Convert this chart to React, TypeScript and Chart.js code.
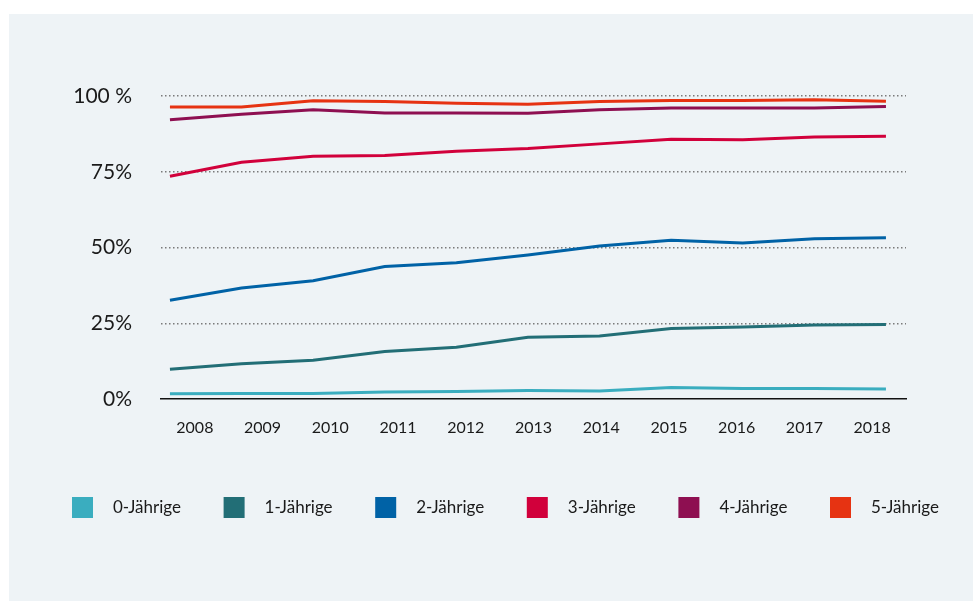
import React, { useEffect, useRef } from "react";
import { Chart, registerables } from "chart.js";

Chart.register(...registerables);

const years = ["2008", "2009", "2010", "2011", "2012", "2013", "2014", "2015", "2016", "2017", "2018"];
const seriesNames = ["0-Jährige", "1-Jährige", "2-Jährige", "3-Jährige", "4-Jährige", "5-Jährige"];
const age0 = [1.7, 1.8, 1.8, 2.3, 2.5, 2.8, 2.6, 3.8, 3.5, 3.5, 3.3];
const age1 = [9.8, 11.6, 12.8, 15.7, 17.1, 20.4, 20.8, 23.3, 23.8, 24.4, 24.6];
const age2 = [32.6, 36.6, 39.0, 43.7, 45.0, 47.5, 50.5, 52.4, 51.5, 52.9, 53.2];
const age3 = [73.5, 78.1, 80.1, 80.4, 81.8, 82.7, 84.2, 85.7, 85.6, 86.5, 86.7];
const age4 = [92.2, 94.0, 95.5, 94.4, 94.4, 94.3, 95.5, 96.0, 96.0, 96.0, 96.5];
const age5 = [96.4, 96.4, 98.4, 98.2, 97.6, 97.3, 98.2, 98.5, 98.5, 98.8, 98.3];
const yTickLabels: Record<number, string> = { 0: "0%", 25: "25%", 50: "50%", 75: "75%", 100: "100 %" };
const colors = ["#3aadbf", "#226e76", "#0062a6", "#d1003b", "#8e0f51", "#e63312"];

const FONT = "Lato, 'Open Sans', sans-serif";

const legendPlugin = {
  id: "customLegend",
  afterDraw(chart: any) {
    const ctx = chart.ctx;
    ctx.save();
    const ds = chart.data.datasets;
    ctx.font = `17px ${FONT}`;
    ctx.textBaseline = "middle";
    ctx.textAlign = "left";
    ds.forEach((d: any, i: number) => {
      const x = 72 + i * 151.6;
      const y = 497;
      ctx.fillStyle = d.borderColor;
      ctx.fillRect(x, y, 21, 21);
      ctx.fillStyle = "#1a1a1a";
      ctx.fillText(d.label, x + 41, y + 11);
    });
    ctx.restore();
  },
};

export default function App() {
  const ref = useRef<HTMLCanvasElement | null>(null);
  useEffect(() => {
    if (!ref.current) return;
    const all = [age0, age1, age2, age3, age4, age5];
    const chart = new Chart(ref.current, {
      type: "line",
      data: {
        datasets: all.map((arr, i) => ({
          label: seriesNames[i],
          data: arr.map((v, j) => ({ x: j, y: v })),
          borderColor: colors[i],
          backgroundColor: colors[i],
          borderWidth: 3,
          pointRadius: 0,
          tension: 0,
          xAxisID: "x",
          yAxisID: "y",
        })),
      },
      options: {
        animation: false,
        responsive: false,
        maintainAspectRatio: false,
        layout: { padding: { left: 0, right: 67, top: 96, bottom: 152 } },
        plugins: { legend: { display: false }, tooltip: { enabled: false } },
        scales: {
          x: {
            type: "linear",
            display: false,
            min: -0.125,
            max: 10.28,
          },
          x2: {
            type: "category",
            labels: years,
            offset: true,
            position: "bottom",
            grid: { display: false, drawTicks: false },
            border: { display: true, color: "#111", width: 1.5 },
            ticks: {
              color: "#1a1a1a",
              font: { family: FONT, size: 16 },
              padding: 19,
              maxRotation: 0,
              autoSkip: false,
            },
            afterFit: (s: any) => {
              s.height = 50;
            },
          },
          y: {
            type: "linear",
            min: 0,
            max: 100,
            grid: {
              drawTicks: false,
              color: (c: any) => (c.tick && c.tick.value === 0 ? "rgba(0,0,0,0)" : "#7a7a7a"),
              lineWidth: 1.5,
            },
            border: { display: false, dash: [1.5, 2.5] },
            ticks: {
              stepSize: 25,
              color: "#1a1a1a",
              font: { family: FONT, size: 21 },
              padding: 29,
              callback: (v: any) => yTickLabels[v as number] ?? "",
            },
            afterFit: (s: any) => {
              s.width = 161;
            },
          },
        },
      },
      plugins: [legendPlugin],
    } as any);
    return () => chart.destroy();
  }, []);

  return (
    <div style={{ position: "fixed", left: 0, top: 0, width: 973, height: 601, background: "#ffffff" }}>
      <div style={{ position: "absolute", left: 9, top: 14, width: 964, height: 587, background: "#eef3f6" }} />
      <canvas ref={ref} width={973} height={601} style={{ position: "absolute", left: 0, top: 0, width: 973, height: 601 }} />
    </div>
  );
}
